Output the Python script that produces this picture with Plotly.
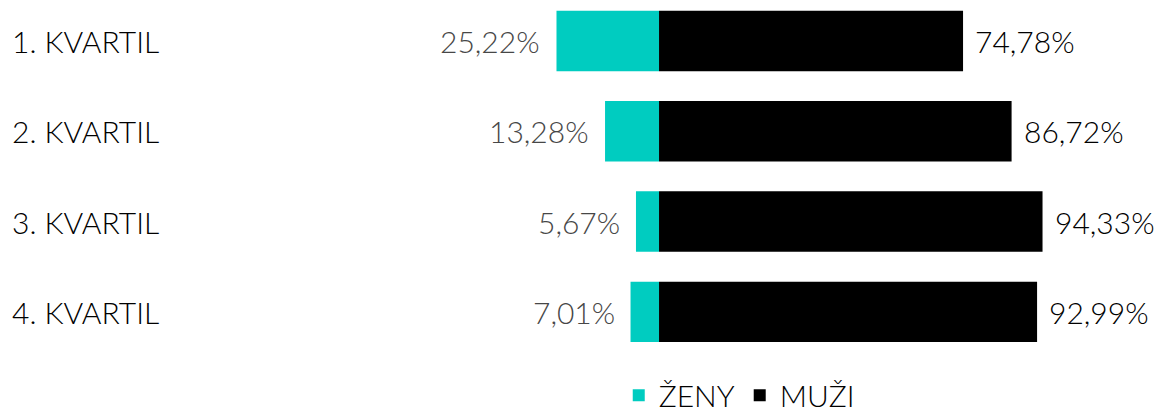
import plotly.graph_objects as go

categories = ["1. KVARTIL", "2. KVARTIL", "3. KVARTIL", "4. KVARTIL"]
zeny = [25.22, 13.28, 5.67, 7.01]
muzi = [74.78, 86.72, 94.33, 92.99]

def fmt(v):
    return f"{v:.2f}".replace(".", ",") + "%"

FONT = "Lato"
TEAL = "#00CCC0"
W = 300

fig = go.Figure()
fig.add_trace(go.Bar(
    y=list(range(len(categories))), x=[-v for v in zeny], orientation="h",
    name="ŽENY", marker=dict(color=TEAL, line=dict(width=0)), width=0.67,
    hoverinfo="skip"))
fig.add_trace(go.Bar(
    y=list(range(len(categories))), x=muzi, orientation="h",
    name="MUŽI", marker=dict(color="#000000", line=dict(width=0)), width=0.67,
    hoverinfo="skip"))

annotations = []
for i, (c, z, m) in enumerate(zip(categories, zeny, muzi)):
    annotations.append(dict(x=0.0085, xref="paper", y=i, yref="y", text=c,
                            showarrow=False, xanchor="left", yanchor="middle",
                            font=dict(family=FONT, size=30, color="#000000", weight=W)))
    annotations.append(dict(x=-z, xref="x", y=i, yref="y", text=fmt(z),
                            showarrow=False, xanchor="right", yanchor="middle",
                            xshift=-14,
                            font=dict(family=FONT, size=30, color="#474747", weight=W)))
    annotations.append(dict(x=m, xref="x", y=i, yref="y", text=fmt(m),
                            showarrow=False, xanchor="left", yanchor="middle",
                            xshift=10,
                            font=dict(family=FONT, size=30, color="#000000", weight=W)))

fig.update_layout(
    width=1166, height=414,
    margin=dict(l=0, r=0, t=0, b=54, autoexpand=False),
    barmode="relative",
    plot_bgcolor="white", paper_bgcolor="white",
    xaxis=dict(range=[-162.1, 124.7], visible=False, fixedrange=True),
    yaxis=dict(range=[3.533, -0.454], visible=False, fixedrange=True),
    showlegend=True,
    legend=dict(orientation="h", x=0.634, xanchor="center",
                yref="container", y=0.045, yanchor="middle",
                font=dict(family=FONT, size=30, color="#000000", weight=W),
                itemclick=False, itemdoubleclick=False, traceorder="normal"),
    annotations=annotations,
)

fig.write_html("out.html")
